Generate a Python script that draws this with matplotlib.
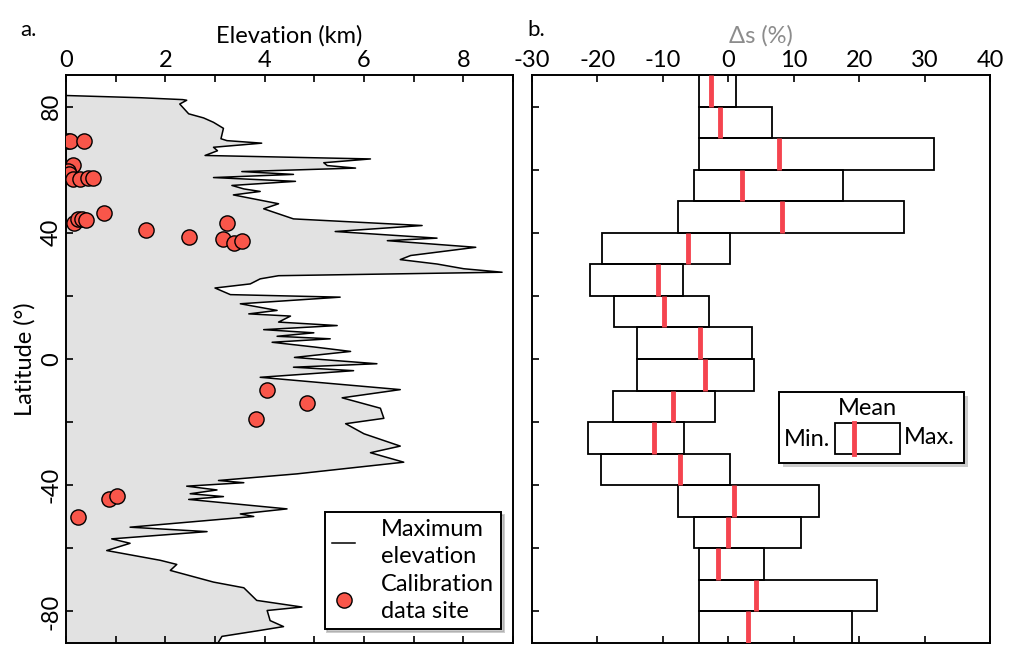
import matplotlib
matplotlib.use("Agg")
import matplotlib.pyplot as plt
import matplotlib.patheffects as pe
from matplotlib.patches import Rectangle
from matplotlib.lines import Line2D

plt.rcParams["font.family"] = ["Lato", "DejaVu Sans"]
plt.rcParams["font.size"] = 17
plt.rcParams["axes.unicode_minus"] = False

# max elevation profile (km) vs latitude (deg)
profile_lat = [
    83.5, 82.8, 82.2, 82.0, 80.8, 77.7, 76.4, 75.0, 73.1, 69.8, 69.2, 68.4, 67.1, 66.0,
    64.5, 63.4, 62.2, 61.3, 60.5, 59.4, 58.5, 57.5, 56.3, 55.0, 53.9, 53.1, 52.0, 49.2,
    47.6, 44.4, 42.3, 40.4, 38.3, 37.5, 35.4, 32.8, 31.5, 30.1, 28.6, 27.5, 26.4, 25.4,
    23.8, 22.5, 20.4, 19.6, 17.5, 15.4, 14.3, 13.6, 11.7, 10.6, 9.3, 8.3, 7.2, 6.4, 5.3,
    3.8, 2.4, 0.5, -1.5, -2.6, -3.7, -5.8, -9.7, -12.3, -15.6, -18.8, -20.5, -23.7,
    -27.6, -29.7, -32.7, -36.4, -38.5, -39.2, -40.3, -41.5, -42.7, -43.6, -44.5, -47.5,
    -49.1, -49.9, -53.3, -54.7, -57.0, -58.4, -60.7, -63.8, -65.1, -67.0, -70.7, -72.5,
    -76.5, -78.6, -79.7, -82.9, -84.8, -86.0, -87.9, -89.7, -90.0,
]
profile_elev = [
    0.0, 1.5, 2.35, 2.43, 2.29, 2.47, 2.77, 2.97, 3.17, 3.12, 3.24, 3.94, 2.97, 3.05,
    2.80, 6.13, 5.19, 5.26, 5.83, 3.54, 4.58, 2.97, 4.62, 3.34, 3.58, 3.91, 3.37, 4.28,
    3.98, 4.58, 7.17, 5.42, 7.47, 6.47, 8.25, 6.94, 6.73, 7.47, 8.01, 8.78, 4.28, 3.91,
    3.71, 3.00, 3.31, 5.52, 3.51, 4.25, 3.68, 4.52, 4.28, 5.46, 3.98, 4.99, 4.25, 5.32,
    4.15, 5.00, 5.73, 4.60, 6.26, 4.58, 5.79, 3.91, 6.73, 5.56, 6.33, 6.40, 5.63, 6.00,
    6.73, 6.13, 6.80, 4.65, 3.07, 3.58, 2.43, 3.04, 2.50, 3.17, 2.47, 4.45,
    3.51, 3.78, 1.29, 2.84, 0.92, 1.29, 0.82, 1.90, 2.23, 2.10, 2.97, 3.58,
    3.84, 4.75, 4.05, 4.11, 4.38, 3.91, 3.14, 3.07, 3.07,
]

# calibration data sites
site_elev = [0.05, 0.08, 0.36, 0.14, 0.05, 0.06, 0.15, 0.28, 0.45, 0.55, 0.16, 0.25,
             0.33, 0.41, 0.77, 1.61, 2.47, 3.24, 3.17, 3.39, 3.54, 4.05, 4.85, 3.82,
             0.87, 1.03, 0.25]
site_lat = [69.2, 69.0, 69.2, 61.6, 59.5, 58.7, 57.1, 57.1, 57.3, 57.3, 43.0, 44.4,
            44.3, 44.2, 46.3, 40.9, 38.6, 43.0, 37.9, 36.7, 37.5, -9.8, -14.0, -19.0,
            -44.3, -43.5, -50.1]

# delta s (%) per 10-degree latitude band, north to south
band_top = [90, 80, 70, 60, 50, 40, 30, 20, 10, 0, -10, -20, -30, -40, -50, -60, -70, -80]
ds_min = [-4.5, -4.5, -4.5, -5.2, -7.7, -19.3, -21.2, -17.5, -14.0, -14.0, -17.6, -21.5,
          -19.4, -7.7, -5.2, -4.5, -4.5, -4.5]
ds_max = [1.2, 6.7, 31.4, 17.5, 26.8, 0.25, -6.9, -3.0, 3.7, 3.9, -2.0, -6.8,
          0.3, 13.9, 11.1, 5.4, 22.7, 18.9]
ds_mean = [-2.7, -1.3, 7.7, 2.1, 8.2, -6.2, -10.8, -9.8, -4.3, -3.5, -8.5, -11.3,
           -7.4, 0.8, 0.0, -1.6, 4.3, 3.0]

red_site = "#f9564a"
red_mean = "#f5444f"

fig = plt.figure(figsize=(10.13, 6.56), dpi=100)
ax1 = fig.add_axes([66 / 1013, 13 / 656, 447 / 1013, 568 / 656])
ax2 = fig.add_axes([532 / 1013, 13 / 656, 458 / 1013, 568 / 656])

for ax in (ax1, ax2):
    for s in ax.spines.values():
        s.set_linewidth(1.4)
    ax.tick_params(direction="in", length=5, width=1.2, top=True, bottom=True,
                   labeltop=True, labelbottom=False, left=True, right=False, pad=3)
    ax.set_ylim(-90, 90)
    ax.set_yticks(range(-80, 81, 20))

# panel a
ax1.fill_betweenx(profile_lat, 0, profile_elev, color="#e2e2e2", lw=0)
ax1.plot(profile_elev, profile_lat, color="black", lw=1.1, label="Maximum\nelevation")
ax1.scatter(site_elev, site_lat, s=120, color=red_site, edgecolor="black", lw=1.0,
            zorder=3, label="Calibration\ndata site")
ax1.set_xlim(0, 9)
ax1.set_xticks(range(0, 10))
ax1.set_xticklabels([str(v) if v % 2 == 0 else "" for v in range(0, 10)])
ax1.set_yticklabels([str(v) if v % 40 == 0 else "" for v in range(-80, 81, 20)],
                    rotation=90, va="center")
ax1.xaxis.set_label_position("top")
ax1.set_xlabel("Elevation (km)", labelpad=5)
ax1.set_ylabel("Latitude (°)", labelpad=4)

leg = ax1.legend(loc="lower right", bbox_to_anchor=(0.99, 0.012), frameon=True,
                 fancybox=False, edgecolor="black", framealpha=1,
                 shadow={"color": "0.6", "alpha": 0.5},
                 handlelength=1.0, handletextpad=1.1, labelspacing=0.3,
                 borderpad=0.3, borderaxespad=0.3, fontsize=17)
leg.get_frame().set_linewidth(1.4)
for t in leg.get_texts():
    t.set_linespacing(1.35)

# panel b
ax2.barh([t - 5 for t in band_top], [mx - mn for mn, mx in zip(ds_min, ds_max)],
         left=ds_min, height=10, fill=False, edgecolor="black", lw=1.3)
ax2.vlines(ds_mean, [t - 10 for t in band_top], band_top, color=red_mean, lw=3.5,
           zorder=3)
ax2.set_xlim(-30, 40)
ax2.set_xticks(range(-30, 41, 10))
ax2.set_yticklabels([])
ax2.xaxis.set_label_position("top")
ax2.set_xlabel("Δs (%)", color="#8c8c8c", labelpad=5)

# legend key for panel b
box = Rectangle((0.539, 0.317), 0.404, 0.125, transform=ax2.transAxes,
                facecolor="white", edgecolor="black", lw=1.4, zorder=4,
                path_effects=[pe.SimplePatchShadow(offset=(3, -3), shadow_rgbFace="0.6",
                                                   alpha=0.5), pe.Normal()])
ax2.add_patch(box)
ax2.add_patch(Rectangle((0.661, 0.333), 0.142, 0.055, transform=ax2.transAxes,
                        facecolor="white", edgecolor="black", lw=1.3, zorder=5))
ax2.add_line(Line2D([0.703, 0.703], [0.333, 0.388], transform=ax2.transAxes,
                    color=red_mean, lw=3.5, zorder=6))
ax2.text(0.733, 0.413, "Mean", transform=ax2.transAxes, ha="center", va="center",
         zorder=6)
ax2.text(0.652, 0.358, "Min.", transform=ax2.transAxes, ha="right", va="center",
         zorder=6)
ax2.text(0.813, 0.362, "Max.", transform=ax2.transAxes, ha="left", va="center",
         zorder=6)

fig.text(20 / 1013, 1 - 30 / 656, "a.", fontsize=16, va="center")
fig.text(527 / 1013, 1 - 30 / 656, "b.", fontsize=16, va="center")

fig.savefig("out.png", dpi=100)
